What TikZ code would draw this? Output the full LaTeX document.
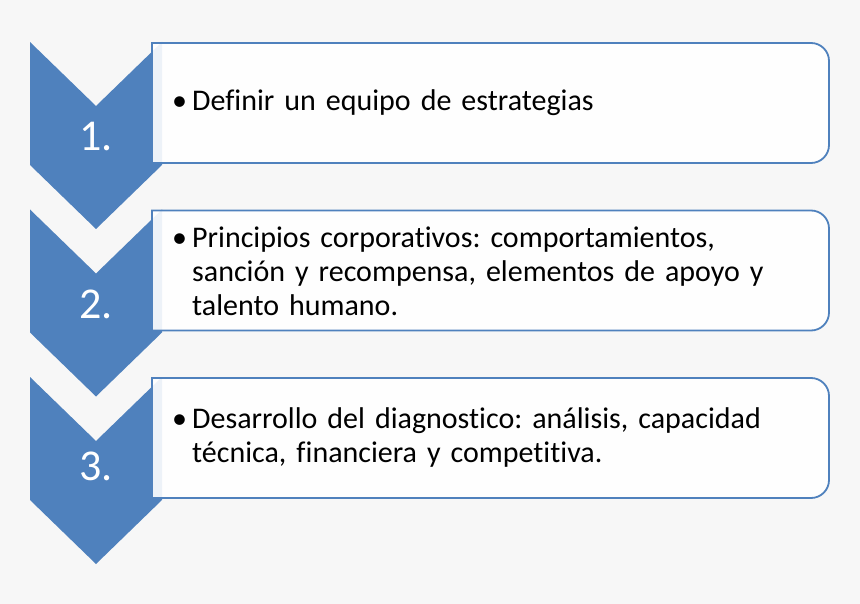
\documentclass[tikz,border=0pt]{standalone}
\usepackage{fontspec}
\setmainfont{Carlito}[Ligatures=NoCommon]
\definecolor{bgcol}{HTML}{F7F7F7}
\definecolor{chev}{HTML}{4F81BD}
\newcommand{\itembullet}{\makebox[0pt][r]{\makebox[20pt][l]{•}}}
\begin{document}
\frenchspacing
\begin{tikzpicture}[x=1pt,y=-1pt,
  chevshape/.style={fill=chev, draw=none},
  itembox/.style={fill=white, fill opacity=0.9, draw=chev, line width=1.8pt},
  numlabel/.style={text=white, font=\fontsize{44}{50}\selectfont, inner sep=0pt},
  itemtext/.style={anchor=west, text width=620pt, align=left, inner sep=0pt, font=\fontsize{30}{34}\selectfont}
]
\fill[bgcol] (0,0) rectangle (860,604);
\useasboundingbox (0,0) rectangle (860,604);
\foreach \t/\bt in {42/43, 209.5/210.5, 377/378}{
  \path[chevshape] (30,\t) -- (96,\t+64) -- (162,\t) -- (162,\t+123) -- (96,\t+187) -- (30,\t+123) -- cycle;
  \path[itembox] (152,\bt) -- (811,\bt) arc[start angle=-90, end angle=0, radius=18] -- (829,\bt+102) arc[start angle=0, end angle=90, radius=18] -- (152,\bt+120) -- cycle;
}
\node[numlabel] (n1) at (96,137) {1.};
\node[numlabel] (n2) at (96,304.5) {2.};
\node[numlabel] (n3) at (96,466) {3.};
\node[itemtext] (t1) at (192,103) {\itembullet Definir un equipo de estrategias};
\node[itemtext] (t2) at (192,271) {\itembullet Principios corporativos: comportamientos,\\ sanción y recompensa, elementos de apoyo y\\ talento humano.};
\node[itemtext] (t3) at (192,438) {\itembullet Desarrollo del diagnostico: análisis, capacidad\\ técnica, financiera y competitiva.};
\end{tikzpicture}
\end{document}
